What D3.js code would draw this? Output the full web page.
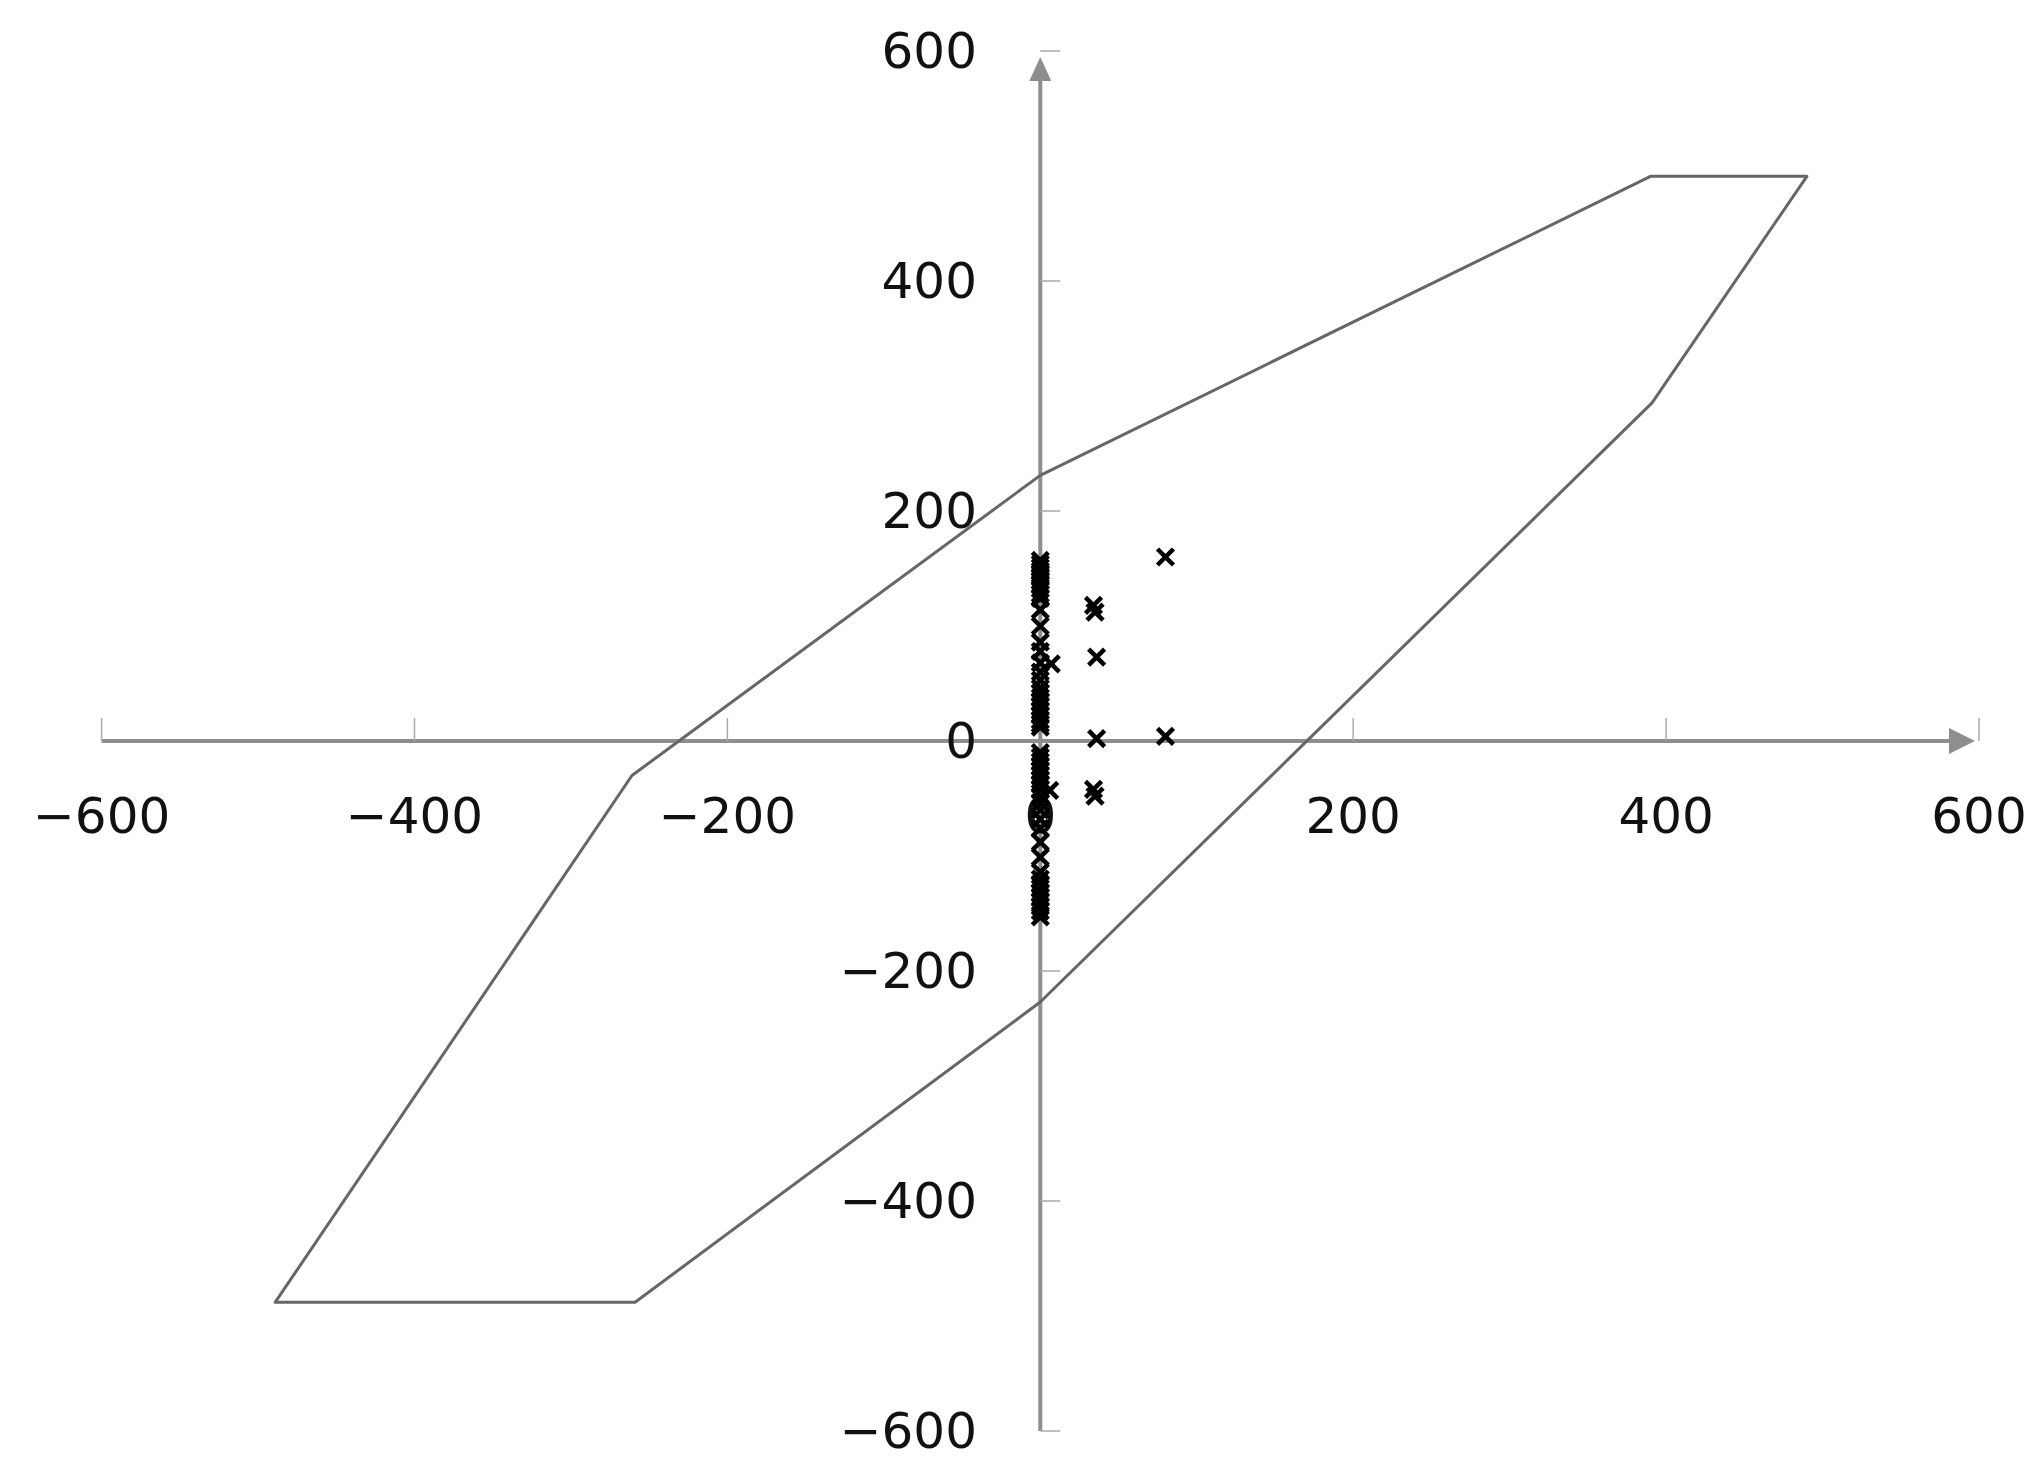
<!DOCTYPE html>
<html>
<head>
<meta charset="utf-8">
<script src="https://cdn.jsdelivr.net/npm/d3@7"></script>
<style>
  body { margin: 0; background: #fff; }
  text { font-family: "DejaVu Sans", Verdana, sans-serif; fill: #111; }
</style>
</head>
<body>
<div id="chart"></div>
<script>
// yield surface outline (polygon vertices)
var surfX = [-489, -261, 0, 390, 490, 391, 0, -259];
var surfY = [-488, -30, 231, 491, 491, 294, -227, -488];

// measured points (x markers)
var ptX = [0, 0, 0, 0, 0, 0, 0, 0, 0, 0, 0, 0, 0, 0, 0, 0, 0, 0, 0, 0, 0, 0, 0, 0, 0, 0, 0, 0,
           0, 0, 0, 0, 0, 0, 0, 0, 0, 0, 0, 0, 0, 0, 0, 0, 0, 0, 0, 0, 0, 0, 0, 0, 0, 0,
           80, 34, 35, 36, 7, 36, 80, 34, 35, 6];
var ptY = [157, 154, 151, 148, 145, 142, 139, 136, 132, 128, 124, 114, 100, 86, 78, 68, 60, 53, 46, 42, 38, 34, 30, 26, 22, 18, 15, 12,
           -10, -14, -18, -22, -26, -30, -34, -38, -42, -48, -54, -60, -68, -76, -88, -101, -114, -120, -124, -128, -132, -136, -140, -144, -148, -153,
           160, 118, 112, 73, 67, 2, 4, -42, -48, -43];

var xTicks = [-600, -400, -200, 200, 400, 600];
var yTicks = [-600, -400, -200, 200, 400, 600];
var xLabels = [-600, -400, -200, 0, 200, 400, 600];
var yLabels = [-600, -400, -200, 0, 200, 400, 600];

var width = 2043, height = 1471;

var x = d3.scaleLinear().domain([-600, 600]).range([101.6, 1979]);
var y = d3.scaleLinear().domain([-600, 600]).range([1431, 51]);
var fmt = d3.format("d");

var svg = d3.select("#chart").append("svg")
    .attr("width", width)
    .attr("height", height);

svg.append("rect").attr("width", width).attr("height", height).attr("fill", "#fff");

var axisColor = "#8e8e8e";

// axes
var ax = svg.append("g").attr("class", "axes");
ax.append("line")
    .attr("x1", x(-600)).attr("x2", x(600) - 20)
    .attr("y1", y(0)).attr("y2", y(0))
    .attr("stroke", axisColor).attr("stroke-width", 4);
ax.append("line")
    .attr("x1", x(0)).attr("x2", x(0))
    .attr("y1", y(-600)).attr("y2", y(600) + 24)
    .attr("stroke", axisColor).attr("stroke-width", 4);

// arrow heads
ax.append("path")
    .attr("d", "M" + (x(600) - 4) + "," + y(0) + "L" + (x(600) - 30) + "," + (y(0) - 13) +
               "L" + (x(600) - 30) + "," + (y(0) + 13) + "Z")
    .attr("fill", axisColor);
ax.append("path")
    .attr("d", "M" + x(0) + "," + (y(600) + 6) + "L" + (x(0) - 11) + "," + (y(600) + 30) +
               "L" + (x(0) + 11) + "," + (y(600) + 30) + "Z")
    .attr("fill", axisColor);

// ticks
ax.selectAll(".xtick").data(xTicks).enter().append("line")
    .attr("class", "xtick")
    .attr("x1", function(d) { return x(d); }).attr("x2", function(d) { return x(d); })
    .attr("y1", y(0)).attr("y2", y(0) - 23)
    .attr("stroke", "#aaa").attr("stroke-width", 1.5);
ax.selectAll(".ytick").data(yTicks).enter().append("line")
    .attr("class", "ytick")
    .attr("y1", function(d) { return y(d); }).attr("y2", function(d) { return y(d); })
    .attr("x1", x(0)).attr("x2", x(0) + 20)
    .attr("stroke", "#aaa").attr("stroke-width", 1.5);

// tick labels
svg.selectAll(".xlab").data(xLabels).enter().append("text")
    .attr("class", "xlab")
    .attr("x", function(d) { return x(d); })
    .attr("y", y(0) + 92)
    .attr("text-anchor", "middle")
    .style("font-size", "50px")
    .text(function(d) { return fmt(d); });
svg.selectAll(".ylab").data(yLabels).enter().append("text")
    .attr("class", "ylab")
    .attr("x", 977)
    .attr("y", function(d) { return y(d) + 17; })
    .attr("text-anchor", "end")
    .style("font-size", "50px")
    .text(function(d) { return fmt(d); });

// yield surface
var surf = surfX.map(function(v, i) { return [x(v), y(surfY[i])]; });
svg.append("path")
    .attr("d", d3.line()(surf) + "Z")
    .attr("fill", "none")
    .attr("stroke", "#666")
    .attr("stroke-width", 3)
    .attr("stroke-linejoin", "round");

// markers
var pts = ptX.map(function(v, i) { return {x: v, y: ptY[i]}; });
svg.selectAll(".pt").data(pts).enter().append("path")
    .attr("class", "pt")
    .attr("transform", function(d) { return "translate(" + x(d.x) + "," + y(d.y) + ")"; })
    .attr("d", "M-8,-8L8,8M-8,8L8,-8")
    .attr("stroke", "#000")
    .attr("stroke-width", 4.5)
    .attr("fill", "none");
</script>
</body>
</html>
